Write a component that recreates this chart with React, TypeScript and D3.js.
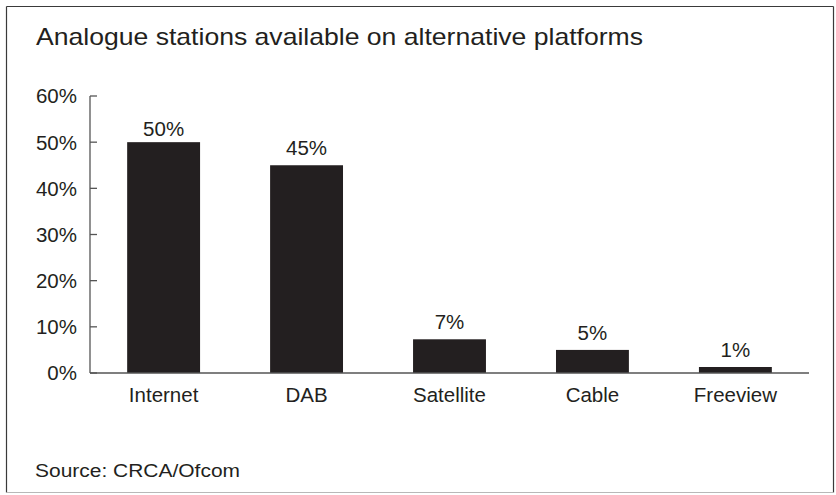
import React from "react";
import * as d3 from "d3";

const categories = ["Internet", "DAB", "Satellite", "Cable", "Freeview"];
const values = [50, 45, 7.3, 5, 1.3];
const valueLabels = ["50%", "45%", "7%", "5%", "1%"];
const yTicks = [0, 10, 20, 30, 40, 50, 60];
const title = "Analogue stations available on alternative platforms";
const source = "Source: CRCA/Ofcom";

const W = 836;
const H = 495;
const ink = "#231f20";
const font = "'Liberation Sans', Arial, Helvetica, sans-serif";

export default function App() {
  const x0 = 90, x1 = 809, yTop = 96, yBottom = 373;
  const x = d3.scaleBand<string>().domain(categories).range([x0, x1]).paddingInner(0.49).paddingOuter(0.26);
  const y = d3.scaleLinear().domain([0, 60]).range([yBottom, yTop]);
  const fs = 20.5;

  return (
    <svg width={W} height={H} style={{ position: "fixed", top: 0, left: 0, background: "#fff" }} fontFamily={font}>
      <line x1={6.5} x2={833.5} y1={6.5} y2={6.5} stroke="#3a3a3a" strokeWidth={1.2} />
      <line x1={6.5} x2={6.5} y1={6.5} y2={492.5} stroke="#3a3a3a" strokeWidth={1.2} />
      <line x1={833.5} x2={833.5} y1={6.5} y2={492.5} stroke="#3a3a3a" strokeWidth={1.2} />
      <line x1={6.5} x2={833.5} y1={492.5} y2={492.5} stroke="#b8b8b8" strokeWidth={1.2} />

      <text x={36} y={45} fontSize={24} fill={ink} textLength={607} lengthAdjust="spacingAndGlyphs">{title}</text>

      {/* y axis */}
      <line x1={x0} x2={x0} y1={y(60)} y2={y(0)} stroke="#555" strokeWidth={1.3} />
      {yTicks.map((t) => (
        <g key={t}>
          <line x1={x0} x2={x0 + 7} y1={y(t)} y2={y(t)} stroke="#555" strokeWidth={1.3} />
          <text x={77} y={y(t)} dy="0.36em" textAnchor="end" fontSize={fs} fill={ink}>{t}%</text>
        </g>
      ))}

      {/* bars */}
      {categories.map((c, i) => (
        <g key={c}>
          <rect x={x(c)} y={y(values[i])} width={x.bandwidth()} height={y(0) - y(values[i])} fill={ink} />
          <text
            x={(x(c) as number) + x.bandwidth() / 2}
            y={Math.max(y(values[i]) - 10, 136)}
            textAnchor="middle"
            fontSize={fs}
            fill={ink}
          >
            {valueLabels[i]}
          </text>
          <text x={(x(c) as number) + x.bandwidth() / 2} y={402} textAnchor="middle" fontSize={fs} fill={ink}>
            {c}
          </text>
        </g>
      ))}

      {/* baseline */}
      <line x1={x0} x2={x1} y1={y(0)} y2={y(0)} stroke="#555" strokeWidth={1.3} />

      <text x={35} y={477} fontSize={17.5} fill={ink} textLength={205} lengthAdjust="spacingAndGlyphs">{source}</text>
    </svg>
  );
}
